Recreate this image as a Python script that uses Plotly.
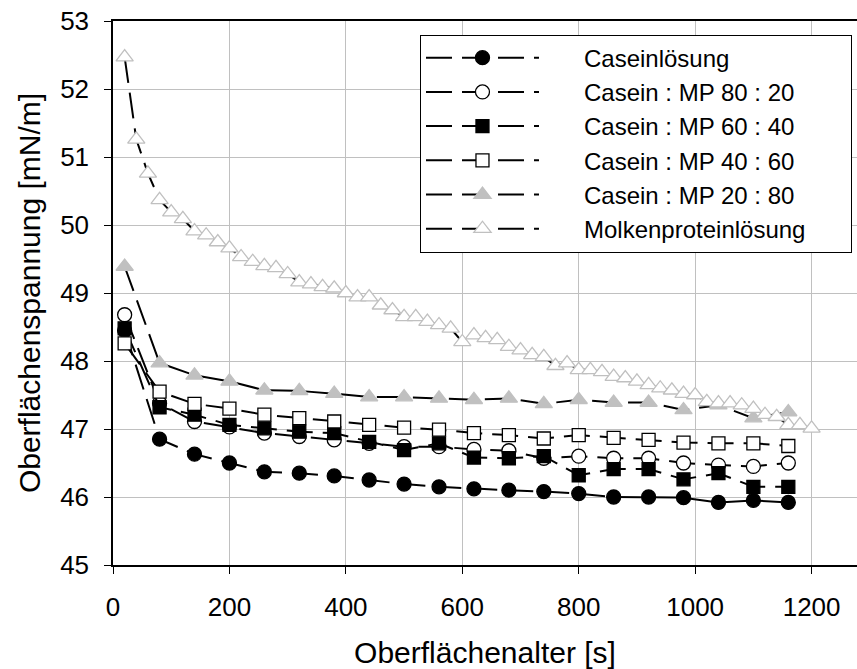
import plotly.graph_objects as go

# ---- data ----
x_short = [20, 80, 140, 200, 260, 320, 380, 440, 500, 560,
           620, 680, 740, 800, 860, 920, 980, 1040, 1100, 1160]
x_long = [20, 40, 60, 80, 100, 120, 140, 160, 180, 200,
          220, 240, 260, 280, 300, 320, 340, 360, 380, 400,
          420, 440, 460, 480, 500, 520, 540, 560, 580, 600,
          620, 640, 660, 680, 700, 720, 740, 760, 780, 800,
          820, 840, 860, 880, 900, 920, 940, 960, 980, 1000,
          1020, 1040, 1060, 1080, 1100, 1120, 1140, 1160, 1180, 1200]

casein = [48.45, 46.85, 46.63, 46.50, 46.37, 46.35, 46.31, 46.25, 46.19, 46.15,
          46.12, 46.10, 46.08, 46.05, 46.00, 46.00, 45.99, 45.92, 45.95, 45.92]
mp_80_20 = [48.68, 47.38, 47.11, 47.03, 46.94, 46.89, 46.84, 46.79, 46.74, 46.74,
            46.70, 46.68, 46.57, 46.60, 46.57, 46.57, 46.50, 46.47, 46.45, 46.50]
mp_60_40 = [48.48, 47.32, 47.21, 47.06, 47.01, 46.96, 46.94, 46.81, 46.69, 46.79,
            46.58, 46.57, 46.60, 46.32, 46.41, 46.41, 46.26, 46.35, 46.15, 46.15]
mp_40_60 = [48.26, 47.55, 47.37, 47.30, 47.21, 47.16, 47.11, 47.06, 47.02, 46.99,
            46.94, 46.91, 46.86, 46.91, 46.87, 46.84, 46.80, 46.79, 46.79, 46.75]
mp_20_80 = [49.39, 47.97, 47.79, 47.70, 47.57, 47.56, 47.52, 47.47, 47.47, 47.45,
            47.43, 47.45, 47.37, 47.43, 47.39, 47.39, 47.28, 47.35, 47.16, 47.25]
molken = [52.47, 51.26, 50.76, 50.37, 50.19, 50.09, 49.91, 49.85, 49.75, 49.66,
          49.53, 49.46, 49.40, 49.37, 49.28, 49.16, 49.13, 49.09, 49.07, 49.00,
          48.94, 48.94, 48.82, 48.75, 48.65, 48.65, 48.58, 48.53, 48.48, 48.28,
          48.38, 48.34, 48.31, 48.21, 48.16, 48.09, 48.06, 47.93, 47.97, 47.87,
          47.87, 47.84, 47.77, 47.75, 47.70, 47.65, 47.60, 47.57, 47.52, 47.50,
          47.40, 47.38, 47.38, 47.35, 47.30, 47.21, 47.18, 47.06, 47.06, 47.01]

names = ["Caseinlösung", "Casein : MP 80 : 20", "Casein : MP 60 : 40",
         "Casein : MP 40 : 60", "Casein : MP 20 : 80", "Molkenproteinlösung"]

x_ticks = [0, 200, 400, 600, 800, 1000, 1200]
y_ticks = [45, 46, 47, 48, 49, 50, 51, 52, 53]

FONT = "Liberation Sans, Arial, sans-serif"
DASH = "26px,10px"
GRAY = "#C0C0C0"
NB = "\u00a0"

series = [
    (x_short, casein, "circle", 14, "black", "black"),
    (x_short, mp_80_20, "circle", 14, "white", "black"),
    (x_short, mp_60_40, "square", 13, "black", "black"),
    (x_short, mp_40_60, "square", 13, "white", "black"),
    (x_short, mp_20_80, "triangle-up", 15, GRAY, GRAY),
    (x_long, molken, "triangle-up", 15, "white", GRAY),
]

fig = go.Figure()
for (xs, ys, sym, size, fill, edge), name in zip(series, names):
    fig.add_trace(go.Scatter(
        x=xs, y=ys, name=NB * 6 + name + NB * 6, mode="lines+markers",
        line=dict(color="black", width=2, dash=DASH),
        marker=dict(symbol=sym, size=size, color=fill,
                    line=dict(color=edge, width=1.3)),
    ))

fig.update_layout(
    width=857, height=669,
    margin=dict(l=113, r=0, t=21, b=104),
    paper_bgcolor="white", plot_bgcolor="white",
    font=dict(family=FONT, color="black"),
    showlegend=True,
    legend=dict(
        x=0.4126, y=0.975, xanchor="left", yanchor="top",
        bgcolor="white", bordercolor="black", borderwidth=1,
        font=dict(family=FONT, size=24, color="black"),
        itemwidth=113, tracegroupgap=0,
    ),
    xaxis=dict(
        range=[0, 1278], tickvals=x_ticks, ticktext=[str(v) for v in x_ticks],
        showgrid=True, gridcolor=GRAY, gridwidth=1,
        showline=True, linecolor="black", linewidth=1.5, mirror=True,
        ticks="outside", ticklen=7, tickcolor="black", tickwidth=1,
        tickfont=dict(family=FONT, size=26), ticklabelstandoff=11,
        ticklabeloverflow="allow",
        zeroline=False, automargin=False,
        title=dict(text="Oberflächenalter [s]", font=dict(family=FONT, size=30), standoff=23),
    ),
    yaxis=dict(
        range=[45, 53], tickvals=y_ticks, ticktext=[str(v) for v in y_ticks],
        showgrid=True, gridcolor=GRAY, gridwidth=1,
        showline=True, linecolor="black", linewidth=1.5,
        ticks="outside", ticklen=7, tickcolor="black", tickwidth=1,
        tickfont=dict(family=FONT, size=26), ticklabelstandoff=10,
        ticklabeloverflow="allow",
        zeroline=False, automargin=False,
        title=dict(text="Oberflächenspannung [mN/m]", font=dict(family=FONT, size=30), standoff=11),
    ),
)

# remove the page's default 8px body margin so the figure fills the window
fig.write_html("out.html", config={"displayModeBar": False},
               post_script="document.body.style.margin='0px';")
